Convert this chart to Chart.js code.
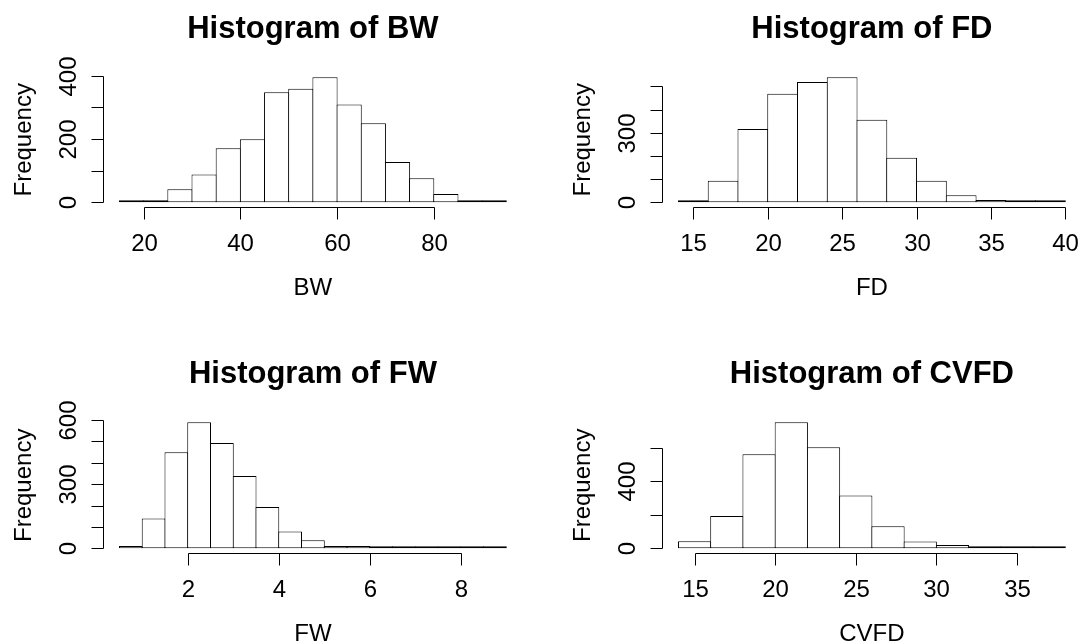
<!DOCTYPE html>
<html>
<head>
<meta charset="utf-8">
<title>Histograms</title>
<script src="https://cdn.jsdelivr.net/npm/chart.js@4.4.1/dist/chart.umd.min.js"></script>
<style>
  html, body { margin: 0; padding: 0; background: #fff; }
  #page { position: relative; width: 1079px; height: 644px; overflow: hidden; background: #fff; }
  #page canvas { position: absolute; left: 0; top: 0; }
</style>
</head>
<body>
<div id="page">
  <canvas id="bwChart" width="1100" height="700"></canvas>
  <canvas id="fdChart" width="1100" height="700"></canvas>
  <canvas id="fwChart" width="1100" height="700"></canvas>
  <canvas id="cvfdChart" width="1100" height="700"></canvas>
</div>
<script>
// BW
const bwBreaks = [15, 20, 25, 30, 35, 40, 45, 50, 55, 60, 65, 70, 75, 80, 85, 90, 95];
const bwCounts = [3, 2, 41, 88, 171, 199, 348, 359, 395, 309, 250, 127, 76, 26, 6, 2];
const bwXTicks = [20, 40, 60, 80];
const bwYTicks = [0, 100, 200, 300, 400];
const bwYLabels = ['0', '', '200', '', '400'];

// FD
const fdBreaks = [14, 16, 18, 20, 22, 24, 26, 28, 30, 32, 34, 36, 38, 40];
const fdCounts = [5, 93, 316, 468, 519, 539, 356, 192, 93, 30, 10, 5, 1];
const fdXTicks = [15, 20, 25, 30, 35, 40];
const fdYTicks = [0, 100, 200, 300, 400, 500];
const fdYLabels = ['0', '', '', '300', '', ''];

// FW
const fwBreaks = [0.5, 1, 1.5, 2, 2.5, 3, 3.5, 4, 4.5, 5, 5.5, 6, 6.5, 7, 7.5, 8, 8.5, 9];
const fwCounts = [11, 139, 449, 589, 492, 338, 193, 78, 37, 11, 11, 3, 2, 2, 1, 2, 1];
const fwXTicks = [2, 4, 6, 8];
const fwYTicks = [0, 100, 200, 300, 400, 500, 600];
const fwYLabels = ['0', '', '', '300', '', '', '600'];

// CVFD
const cvfdBreaks = [14, 16, 18, 20, 22, 24, 26, 28, 30, 32, 34, 36, 38];
const cvfdCounts = [42, 193, 560, 751, 602, 314, 131, 40, 20, 1, 1, 6];
const cvfdXTicks = [15, 20, 25, 30, 35];
const cvfdYTicks = [0, 200, 400, 600];
const cvfdYLabels = ['0', '', '400', ''];

// plot regions on the page (left, top, width, height)
const CANVAS_W = 1100, CANVAS_H = 700;
const FONT = '"Liberation Sans", Arial, Helvetica, sans-serif';

histogram('bwChart', 'BW', bwBreaks, bwCounts, bwXTicks, bwYTicks, bwYLabels, { left: 104, top: 72.3, w: 417.8, h: 135 });
histogram('fdChart', 'FD', fdBreaks, fdCounts, fdXTicks, fdYTicks, fdYLabels, { left: 663, top: 72.3, w: 417.8, h: 135 });
histogram('fwChart', 'FW', fwBreaks, fwCounts, fwXTicks, fwYTicks, fwYLabels, { left: 104, top: 417.3, w: 417.8, h: 136 });
histogram('cvfdChart', 'CVFD', cvfdBreaks, cvfdCounts, cvfdXTicks, cvfdYTicks, cvfdYLabels, { left: 663, top: 417.3, w: 417.8, h: 136 });

// R-like histogram: white bars with black outline, axes drawn only between the end ticks
function histogram(id, name, breaks, counts, xTicks, yTicks, yLabels, area) {
  const last = breaks.length - 1;
  const span = breaks[last] - breaks[0];
  const xmin = breaks[0] - 0.04 * span;
  const xmax = breaks[last] + 0.04 * span;
  const peak = Math.max(...counts);
  const binPx = (breaks[1] - breaks[0]) * area.w / (xmax - xmin);

  const data = counts.map((c, i) => ({ x: (breaks[i] + breaks[i + 1]) / 2, y: c }));

  const rAxes = {
    id: 'rAxes',
    afterDraw(chart) {
      const { ctx, chartArea: a, scales: { x, y } } = chart;
      ctx.save();
      ctx.strokeStyle = '#000';
      ctx.fillStyle = '#000';
      ctx.lineWidth = 1;

      // x axis
      const yl = Math.round(a.bottom) + 0.5;
      const xp = xTicks.map(t => Math.round(x.getPixelForValue(t)) + 0.5);
      ctx.beginPath();
      ctx.moveTo(xp[0], yl);
      ctx.lineTo(xp[xp.length - 1], yl);
      xp.forEach(px => { ctx.moveTo(px, yl); ctx.lineTo(px, yl + 12); });
      ctx.stroke();

      ctx.font = `24px ${FONT}`;
      ctx.textAlign = 'center';
      ctx.textBaseline = 'alphabetic';
      xTicks.forEach((t, i) => ctx.fillText(String(t), xp[i], a.bottom + 43.5));
      ctx.fillText(name, (a.left + a.right) / 2, a.bottom + 88);

      // y axis
      const xl = Math.round(a.left) - 0.5;
      const yp = yTicks.map(t => Math.round(y.getPixelForValue(t)) + 0.5);
      ctx.beginPath();
      ctx.moveTo(xl, yp[0]);
      ctx.lineTo(xl, yp[yp.length - 1]);
      yp.forEach(py => { ctx.moveTo(xl, py); ctx.lineTo(xl - 12, py); });
      ctx.stroke();

      yLabels.forEach((lab, i) => {
        if (!lab) return;
        ctx.save();
        ctx.translate(a.left - 28, yp[i]);
        ctx.rotate(-Math.PI / 2);
        ctx.fillText(lab, 0, 0);
        ctx.restore();
      });

      ctx.save();
      ctx.translate(a.left - 73, (a.top + a.bottom) / 2);
      ctx.rotate(-Math.PI / 2);
      ctx.fillText('Frequency', 0, 0);
      ctx.restore();

      // title
      ctx.font = `bold 31px ${FONT}`;
      ctx.fillText('Histogram of ' + name, (a.left + a.right) / 2, a.top - 34.3);
      ctx.restore();
    }
  };

  new Chart(document.getElementById(id), {
    type: 'bar',
    data: {
      datasets: [{
        data,
        backgroundColor: '#fff',
        borderColor: '#000',
        borderWidth: 1,
        borderSkipped: false,
        inflateAmount: 0,
        minBarLength: 2,
        barThickness: binPx + 1
      }]
    },
    options: {
      responsive: false,
      animation: false,
      devicePixelRatio: 1,
      events: [],
      layout: {
        padding: {
          left: area.left,
          top: area.top,
          right: CANVAS_W - area.left - area.w,
          bottom: CANVAS_H - area.top - area.h
        }
      },
      plugins: { legend: { display: false }, tooltip: { enabled: false } },
      scales: {
        x: { type: 'linear', display: false, offset: false, min: xmin, max: xmax },
        y: { type: 'linear', display: false, min: -0.04 * peak, max: 1.04 * peak }
      }
    },
    plugins: [rAxes]
  });
}
</script>
</body>
</html>
